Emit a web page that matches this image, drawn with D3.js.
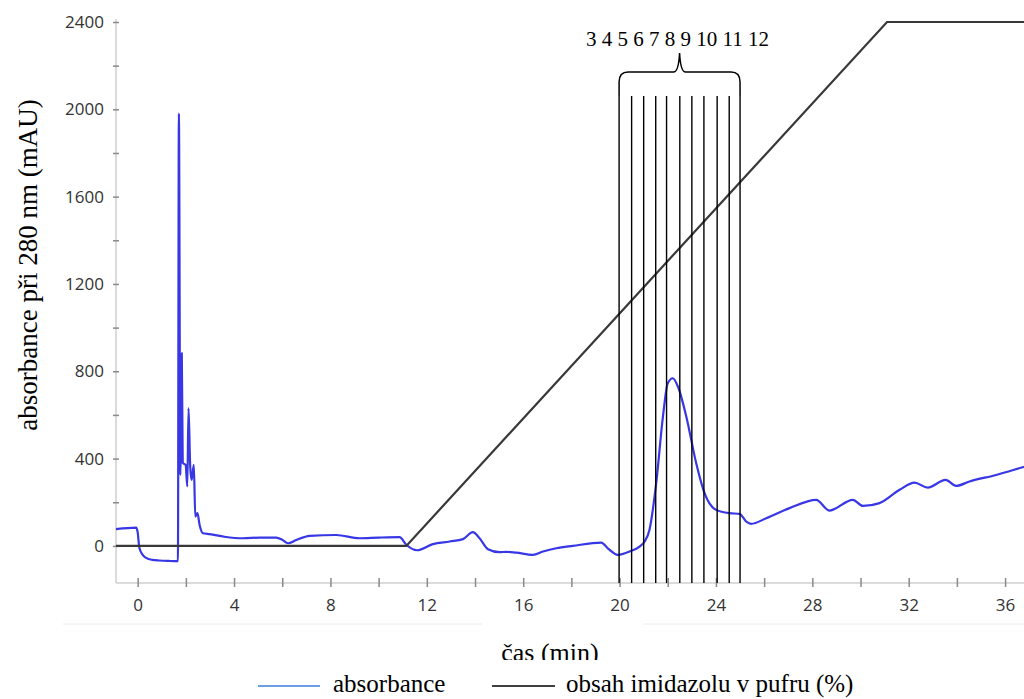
<!DOCTYPE html>
<html>
<head>
<meta charset="utf-8">
<script src="https://cdn.jsdelivr.net/npm/d3@7"></script>
<style>
  body { margin: 0; background: #fff; }
  svg { display: block; }
</style>
</head>
<body>
<div id="chart"></div>
<script>
// absorbance trace (time in min, mAU)
const absTime = [-0.9, -0.06, 0.0, 0.07, 0.2, 0.35, 0.6, 0.9, 1.3, 1.67, 1.71, 1.77, 1.83, 1.87, 1.99, 2.06, 2.11, 2.18, 2.24, 2.33, 2.39, 2.48, 2.57, 2.71, 2.99, 3.6, 4.37, 5.06, 5.75, 6.0, 6.24, 6.58, 7.14, 8.24, 9.21, 10.0, 10.87, 11.15, 11.6, 12.25, 12.95, 13.5, 13.91, 14.19, 14.54, 15.02, 15.3, 15.71, 16.4, 16.82, 17.37, 18.06, 19.24, 19.51, 19.93, 20.41, 20.83, 21.04, 21.24, 21.52, 21.8, 22.0, 22.21, 22.42, 22.77, 23.18, 23.53, 24.01, 24.56, 24.98, 25.26, 25.46, 26.09, 27.05, 28.16, 28.71, 29.68, 30.1, 30.79, 31.62, 32.24, 32.79, 33.53, 33.97, 34.52, 35.63, 36.73, 37.2];
const absValue = [77, 84, 62, -9, -40, -55, -64, -67, -69, -70, 1980, 325, 883, 380, 371, 272, 631, 363, 302, 371, 134, 150, 96, 58, 54, 42, 35, 38, 38, 28, 12, 27, 46, 50, 35, 38, 40, 5, -20, 8, 20, 31, 63, 35, -15, -29, -27, -31, -41, -26, -11, 0, 15, -11, -41, -26, -3, 20, 73, 287, 592, 745, 768, 730, 592, 379, 241, 165, 150, 147, 111, 101, 127, 173, 211, 162, 211, 183, 196, 257, 290, 267, 302, 275, 295, 325, 360, 375];

// imidazole gradient (time in min, %)
const gradTime = [-0.9, 11.15, 31.1, 37.2];
const gradPct = [0, 0, 100, 100];

// collected fractions
const fractionBounds = [19.98, 20.5, 21.0, 21.5, 21.95, 22.5, 23.0, 23.5, 24.05, 24.55, 25.0];
const fractionLabels = ["3", "4", "5", "6", "7", "8", "9", "10", "11", "12"];

const yTickValues = [0, 400, 800, 1200, 1600, 2000, 2400];
const xTickValues = [0, 4, 8, 12, 16, 20, 24, 28, 32, 36];

const W = 1024, H = 699;
const serif = "'Liberation Serif', 'Times New Roman', serif";
const sans = "'Open Sans', 'Noto Sans', sans-serif";

const svg = d3.select('#chart').append('svg')
  .attr('width', W)
  .attr('height', H);

// scales
const x = d3.scaleLinear().domain([-0.9, 37.2]).range([116, 1034]);
const y = d3.scaleLinear().domain([-170, 2400]).range([583, 22]);
const yPct = d3.scaleLinear().domain([0, 100]).range([y(0), y(2400)]);

// faint frame line under the tick labels
svg.append('line').attr('x1', 63).attr('x2', 482).attr('y1', 624).attr('y2', 624)
  .attr('stroke', '#ececec').attr('stroke-width', 1);
svg.append('line').attr('x1', 643).attr('x2', W).attr('y1', 624).attr('y2', 624)
  .attr('stroke', '#ececec').attr('stroke-width', 1);

// y axis
const yAxis = d3.axisLeft(y)
  .tickValues(d3.range(0, 2401, 200))
  .tickSize(3)
  .tickPadding(9)
  .tickFormat(d => yTickValues.includes(d) ? d : '');
const gy = svg.append('g').attr('transform', 'translate(116,0)').call(yAxis);
gy.select('.domain').attr('d', `M0,${y(-170)}V${y(2400) - 3}`).attr('stroke', '#cfcfcf').attr('stroke-width', 1.5);
gy.selectAll('.tick line').attr('x1', 3).attr('x2', -3).attr('stroke', '#8a8a8a').attr('stroke-width', 1.5);
gy.selectAll('.tick text').attr('font-family', sans).attr('font-size', 17).attr('fill', '#333');

// x axis
const xAxis = d3.axisBottom(x)
  .tickValues(d3.range(0, 37, 2))
  .tickSize(4)
  .tickPadding(12)
  .tickFormat(d => xTickValues.includes(d) ? d : '');
const gx = svg.append('g').attr('transform', 'translate(0,583)').call(xAxis);
gx.select('.domain').attr('d', `M116,0H${W}`).attr('stroke', '#cfcfcf').attr('stroke-width', 1.5);
gx.selectAll('.tick line').attr('y1', -5).attr('y2', 4).attr('stroke', '#8a8a8a').attr('stroke-width', 1.5);
gx.selectAll('.tick text').attr('font-family', sans).attr('font-size', 17).attr('fill', '#333');

// absorbance line
const absData = absTime.map((t, i) => ({ t: t, v: absValue[i] }));
const absLine = d3.line()
  .x(d => x(d.t))
  .y(d => y(d.v))
  .curve(d3.curveMonotoneX);
svg.append('path')
  .datum(absData)
  .attr('fill', 'none')
  .attr('stroke', '#3737e6')
  .attr('stroke-width', 2.2)
  .attr('stroke-linejoin', 'round')
  .attr('d', absLine);

// gradient line
const gradData = gradTime.map((t, i) => ({ t: t, p: gradPct[i] }));
svg.append('path')
  .datum(gradData)
  .attr('fill', 'none')
  .attr('stroke', '#383838')
  .attr('stroke-width', 2.2)
  .attr('d', d3.line().x(d => x(d.t)).y(d => yPct(d.p)));

// fraction lines
const topY = 96;
svg.append('g').selectAll('line')
  .data(fractionBounds)
  .join('line')
  .attr('x1', d => x(d)).attr('x2', d => x(d))
  .attr('y1', topY).attr('y2', y(-170))
  .attr('stroke', '#000')
  .attr('stroke-width', 1.4);

// brace over the fractions
const bx0 = x(fractionBounds[0]), bx1 = x(fractionBounds[fractionBounds.length - 1]);
const bmid = (bx0 + bx1) / 2, by = 72;
svg.append('path')
  .attr('d', `M${bx0},${topY} L${bx0},${by + 10} Q${bx0},${by} ${bx0 + 9},${by} L${bmid - 6},${by} Q${bmid - 1},${by} ${bmid},${by - 19} Q${bmid + 1},${by} ${bmid + 6},${by} L${bx1 - 9},${by} Q${bx1},${by} ${bx1},${by + 10} L${bx1},${topY}`)
  .attr('fill', 'none')
  .attr('stroke', '#000')
  .attr('stroke-width', 1.5);

svg.append('text')
  .attr('x', bmid - 2)
  .attr('y', 46)
  .attr('text-anchor', 'middle')
  .attr('font-family', serif)
  .attr('font-size', 21)
  .attr('fill', '#000')
  .text(fractionLabels.join(' '));

// axis titles
svg.append('text')
  .attr('transform', 'translate(37,265) rotate(-90)')
  .attr('text-anchor', 'middle')
  .attr('font-family', serif)
  .attr('font-size', 27)
  .attr('fill', '#000')
  .text('absorbance při 280 nm (mAU)');

svg.append('clipPath').attr('id', 'xtclip')
  .append('rect').attr('x', 0).attr('y', 0).attr('width', W).attr('height', 660);
svg.append('text')
  .attr('x', 550)
  .attr('y', 661)
  .attr('text-anchor', 'middle')
  .attr('font-family', serif)
  .attr('font-size', 26)
  .attr('fill', '#000')
  .attr('clip-path', 'url(#xtclip)')
  .text('čas (min)');

// legend
const legend = [
  { name: 'absorbance', color: '#3b7ddd', x1: 258, x2: 320, tx: 333 },
  { name: 'obsah imidazolu v pufru (%)', color: '#000', x1: 492, x2: 555, tx: 566 }
];
const lg = svg.append('g');
lg.selectAll('line')
  .data(legend)
  .join('line')
  .attr('x1', d => d.x1).attr('x2', d => d.x2)
  .attr('y1', 686).attr('y2', 686)
  .attr('stroke', d => d.color)
  .attr('stroke-width', 1.5);
lg.selectAll('text')
  .data(legend)
  .join('text')
  .attr('x', d => d.tx)
  .attr('y', 692)
  .attr('font-family', serif)
  .attr('font-size', 25)
  .attr('fill', '#000')
  .text(d => d.name);
</script>
</body>
</html>
